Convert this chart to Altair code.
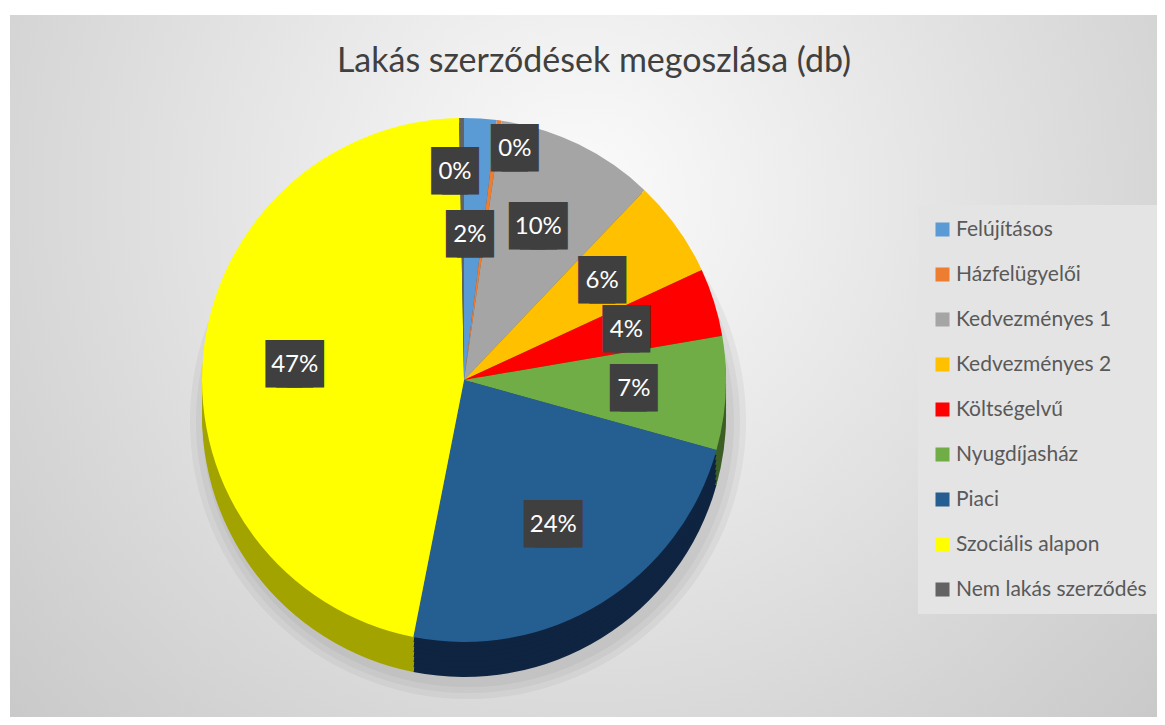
import altair as alt
import pandas as pd

# ---- data ----
categories = ["Felújításos", "Házfelügyelői", "Kedvezményes 1", "Kedvezményes 2",
              "Költségelvű", "Nyugdíjasház", "Piaci", "Szociális alapon",
              "Nem lakás szerződés"]
values = [20, 3, 98, 60, 42, 70, 238, 466, 3]
colors = ["#5b9bd5", "#ed7d31", "#a5a5a5", "#ffc000", "#ff0000", "#70ad47",
          "#255e91", "#ffff00", "#636363"]
side_colors = ["#2f5f8a", "#8a4a1d", "#5e5e5e", "#8f6c00", "#8f0000", "#3c5f27",
               "#0e2440", "#a3a300", "#333333"]
TITLE = "Lakás szerződések megoszlása (db)"

df = pd.DataFrame({"cat": categories, "value": values, "idx": list(range(len(categories)))})
one = pd.DataFrame({"a": [0]})

# ---- layout / style ----
W, H = 1149, 709
CX, CY, R = 456, 372, 262
DEPTH = 35
LABEL_R = 170
# label nudges (radius, extra angle) for the crowded tiny slices
label_tweak = {"Nem lakás szerződés": (208, -0.034),
               "Házfelügyelői": (237, 0.081),
               "Felújításos": (145, -0.022)}


def tweak_expr(pos, default):
    expr = str(default)
    for c, t in label_tweak.items():
        expr = f"datum.cat === '{c}' ? {t[pos]} : ({expr})"
    return expr


bg = alt.Chart(one).mark_rect(
    fill=alt.RadialGradient(
        gradient="radial", x1=0.5, y1=0.35, x2=0.5, y2=0.35, r1=0, r2=0.75,
        stops=[alt.GradientStop(offset=0, color="#fbfbfb"),
               alt.GradientStop(offset=1, color="#c4c4c4")])
).encode(x=alt.value(2), x2=alt.value(W), y=alt.value(7), y2=alt.value(H))

title = alt.Chart(pd.DataFrame({"t": [TITLE]})).mark_text(
    font="Lato", fontSize=34, color="#404040", align="center", baseline="middle"
).encode(text="t:N", x=alt.value(586), y=alt.value(54))

shadows = [
    alt.Chart(one).mark_arc(radius=R + g, theta=0, theta2=6.2832, color="#7a7a7a",
                            opacity=0.09).encode(x=alt.value(CX + 4), y=alt.value(CY + DEPTH + 6))
    for g in (4, 10, 16)
]

base = alt.Chart(df)
sides = [
    base.mark_arc(radius=R).encode(
        theta=alt.Theta("value:Q", stack=True),
        color=alt.Color("cat:N", scale=alt.Scale(domain=categories, range=side_colors), legend=None),
        order=alt.Order("idx:Q"),
        x=alt.value(CX), y=alt.value(CY + d))
    for d in range(DEPTH, 0, -5)
]

pie = base.mark_arc(radius=R).encode(
    theta=alt.Theta("value:Q", stack=True),
    color=alt.Color("cat:N", scale=alt.Scale(domain=categories, range=colors),
                    legend=alt.Legend(title=None, orient="none", legendX=910, legendY=197,
                                      symbolType="square", symbolSize=196, symbolStrokeWidth=0,
                                      labelFontSize=21, labelFont="Lato", labelColor="#595959",
                                      labelLimit=400, rowPadding=23, labelOffset=3, padding=14,
                                      fillColor="#e4e4e4")),
    order=alt.Order("idx:Q"),
    x=alt.value(CX), y=alt.value(CY))

lab = (alt.Chart(df)
       .transform_joinaggregate(total="sum(value)")
       .transform_window(cum="sum(value)", sort=[alt.SortField("idx", order="ascending")],
                         frame=[None, 0])
       .transform_calculate(pct="format(datum.value / datum.total, '.0%')")
       .transform_calculate(box="length(datum.pct) > 2 ? '███' : '██'")
       .transform_calculate(lr=tweak_expr(0, LABEL_R))
       .transform_calculate(lt=f"2 * PI * (datum.cum - datum.value / 2) / datum.total + ({tweak_expr(1, 0)})"))

boxes = lab.mark_text(font="DejaVu Sans Mono", fontSize=18, color="#3f3f3f",
                      stroke="#3f3f3f", strokeWidth=26, strokeJoin="miter",
                      align="center", baseline="middle").encode(
    text="box:N",
    theta=alt.Theta("lt:Q", scale=None, stack=False),
    radius=alt.Radius("lr:Q", scale=None),
    x=alt.value(CX), y=alt.value(CY))

texts = lab.mark_text(font="Lato", fontSize=24, color="white",
                      align="center", baseline="middle").encode(
    text="pct:N",
    theta=alt.Theta("lt:Q", scale=None, stack=False),
    radius=alt.Radius("lr:Q", scale=None),
    x=alt.value(CX), y=alt.value(CY))

chart = alt.layer(bg, title, *shadows, *sides, pie, boxes, texts).resolve_scale(
    color="independent"
).properties(
    width=W, height=H, padding=0,
    autosize=alt.AutoSizeParams(type="fit", contains="padding"),
    background="white"
).configure_view(stroke=None)

chart.save("out.html", embed_options={"renderer": "svg", "actions": False})
